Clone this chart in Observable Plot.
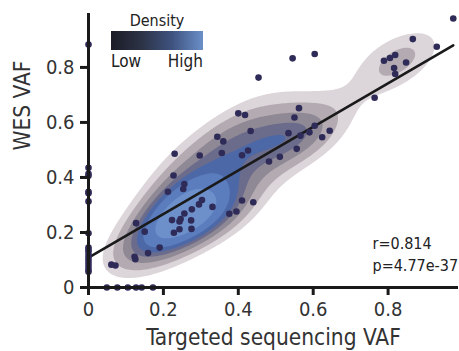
<!DOCTYPE html>
<html>
<head>
<meta charset="utf-8">
<script src="https://cdn.jsdelivr.net/npm/d3@7"></script>
<script src="https://cdn.jsdelivr.net/npm/@observablehq/plot@0.6"></script>
<style>
  html, body { margin: 0; padding: 0; background: #fff; }
  #wrap { position: relative; width: 459px; height: 351px; font-family: "DejaVu Sans Condensed", "Liberation Sans Narrow", sans-serif; }
  #legend { position: absolute; left: 111px; top: 12px; width: 92px; color: #222; }
  #legend .title { text-align: center; font-size: 16px; line-height: 18px; }
  #legend .bar { height: 19px; margin-top: 1px; }
  #legend .labels { display: flex; justify-content: space-between; font-size: 17px; line-height: 20px; margin-top: 1px; }
</style>
</head>
<body>
<div id="wrap"></div>
<script>
// Targeted sequencing VAF (x) and WES VAF (y)
const targetedVAF = [
  0,0,0,0,0,0,0,0,0,0,0,0,0,0,0,0,0,0,
  0.049,0.077,0.105,0.127,0.142,0.172,
  0.061,0.072,0.123,0.125,0.159,0.19,0.127,0.15,
  0.227,0.256,0.253,0.212,0.303,0.295,0.256,0.276,0.223,0.246,0.243,0.274,0.228,0.243,0.275,0.331,0.376,0.395,0.41,0.44,
  0.4,0.418,0.433,0.344,0.36,0.23,0.297,0.356,0.41,0.426,0.482,0.511,0.556,0.534,0.566,0.59,0.604,0.644,0.624,0.562,0.55,
  0.454,0.545,0.604,0.764,0.789,0.805,0.819,0.848,0.816,0.819,0.866,0.93,0.974
];
const wesVAF = [
  0.883,0.435,0.413,0.406,0.348,0.343,0.313,0.197,0.145,0.137,0.13,0.118,0.107,0.097,0.086,0.075,0.064,0.057,
  0,0,0,0,0,0,
  0.083,0.08,0.112,0.103,0.125,0.145,0.234,0.203,
  0.407,0.376,0.358,0.348,0.318,0.302,0.269,0.284,0.245,0.249,0.24,0.244,0.199,0.212,0.213,0.293,0.268,0.276,0.316,0.31,
  0.633,0.627,0.569,0.548,0.531,0.486,0.48,0.489,0.481,0.498,0.458,0.475,0.504,0.561,0.552,0.564,0.588,0.57,0.546,0.652,0.618,
  0.763,0.833,0.849,0.69,0.824,0.834,0.845,0.818,0.798,0.776,0.903,0.875,0.978
];
const tickValues = [0, 0.2, 0.4, 0.6, 0.8];
const tickLabels = ["0", "0.2", "0.4", "0.6", "0.8"];
const statLines = ["r=0.814", "p=4.77e-37"];
const fitIntercept = 0.109;   // regression line
const fitSlope = 0.792;
const densityLevels = [0.33, 0.47, 0.58, 0.68, 0.77, 0.85, 0.92]; // iso-proportion levels
const densityColors = ["#dcd5d9", "#b3abb1", "#8f8895", "#6b6c8c", "#4d68a6", "#5b7dbe", "#6d90cb"];
const legendColors = ["#1c1c28", "#2c3346", "#3f5380", "#6a8fc8"];

const points = targetedVAF.map((x, i) => ({x, y: wesVAF[i]}));
const fmt = d => tickLabels[tickValues.indexOf(d)] ?? String(d);
const font = '"DejaVu Sans Condensed", "Liberation Sans Narrow", sans-serif';

// Gaussian KDE of the variants detected by both assays (non-zero VAF)
const kdePoints = points.filter(p => p.x > 0 && p.y > 0);
const bwFactor = 0.42, corrShrink = 0.4;
const n = kdePoints.length;
const mx = d3.mean(kdePoints, p => p.x), my = d3.mean(kdePoints, p => p.y);
let sxx = 0, syy = 0, sxy = 0;
for (const p of kdePoints) { sxx += (p.x - mx) ** 2; syy += (p.y - my) ** 2; sxy += (p.x - mx) * (p.y - my); }
sxx /= n - 1; syy /= n - 1; sxy /= n - 1;
const h00 = sxx * bwFactor ** 2, h11 = syy * bwFactor ** 2, h01 = corrShrink * sxy * bwFactor ** 2;
const det = h00 * h11 - h01 * h01;
const i00 = h11 / det, i11 = h00 / det, i01 = -h01 / det;
const norm = 1 / (n * 2 * Math.PI * Math.sqrt(det));
function kde(x, y) {
  let s = 0;
  for (const p of kdePoints) {
    const dx = x - p.x, dy = y - p.y;
    s += Math.exp(-0.5 * (i00 * dx * dx + 2 * i01 * dx * dy + i11 * dy * dy));
  }
  return s * norm;
}
// convert iso-proportion levels to density thresholds
const grid = [];
const G = 160, lo = -0.4, hi = 1.4, step = (hi - lo) / G;
for (let i = 0; i < G; i++) for (let j = 0; j < G; j++) grid.push(kde(lo + (i + 0.5) * step, lo + (j + 0.5) * step));
grid.sort((a, b) => a - b);
const total = d3.sum(grid);
const thresholds = [];
{
  let cum = 0, k = 0;
  for (const v of grid) {
    cum += v;
    while (k < densityLevels.length && cum / total >= densityLevels[k]) { thresholds.push(v); k++; }
  }
}

const xExtent = d3.extent(targetedVAF);
const fitLine = xExtent.map(x => ({x, y: fitIntercept + fitSlope * x}));

const plot = Plot.plot({
  width: 459,
  height: 351,
  marginLeft: 88,
  marginRight: 1,
  marginTop: 13,
  marginBottom: 64,
  style: {fontFamily: font, color: "#333", background: "#fff", overflow: "visible"},
  x: {domain: [0, 0.988], ticks: tickValues, tickFormat: fmt, label: null},
  y: {domain: [0, 0.996], ticks: tickValues, tickFormat: fmt, label: null},
  color: {type: "ordinal", domain: thresholds, range: densityColors},
  marks: [
    Plot.contour({fill: kde, x1: 0, y1: 0, x2: 0.988, y2: 0.996, thresholds, stroke: "none", pixelSize: 2}),
    Plot.line(fitLine, {x: "x", y: "y", stroke: "#1a1a1a", strokeWidth: 2.6}),
    Plot.dot(points, {x: "x", y: "y", r: 3.3, fill: "#2f2b58", stroke: "none"}),
    Plot.ruleX([0], {stroke: "#1a1a1a", strokeWidth: 3}),
    Plot.ruleY([0], {stroke: "#1a1a1a", strokeWidth: 3}),
    Plot.axisX({ticks: tickValues, tickFormat: fmt, tickSize: 8, tickPadding: 6, strokeWidth: 3, stroke: "#1a1a1a", fontSize: 20, fill: "#333", label: null}),
    Plot.axisY({ticks: tickValues, tickFormat: fmt, tickSize: 8, tickPadding: 6, strokeWidth: 3, stroke: "#1a1a1a", fontSize: 20, fill: "#333", label: null}),
    Plot.text(["Targeted sequencing VAF"], {frameAnchor: "bottom", dy: 57, fontSize: 22.5, fill: "#333"}),
    Plot.text(["WES VAF"], {frameAnchor: "left", dx: -66, rotate: -90, fontSize: 22.5, fill: "#333"}),
    Plot.text([statLines.join("\n")], {frameAnchor: "bottom-right", textAnchor: "start", lineAnchor: "bottom", dx: -86, dy: -17, fontSize: 16, lineHeight: 1.35, fill: "#222"})
  ]
});

const wrap = document.getElementById("wrap");
wrap.appendChild(plot);
const legend = document.createElement("div");
legend.id = "legend";
legend.innerHTML = `<div class="title">Density</div>
  <div class="bar" style="background: linear-gradient(to right, ${legendColors.join(", ")})"></div>
  <div class="labels"><span>Low</span><span>High</span></div>`;
wrap.appendChild(legend);
</script>
</body>
</html>
